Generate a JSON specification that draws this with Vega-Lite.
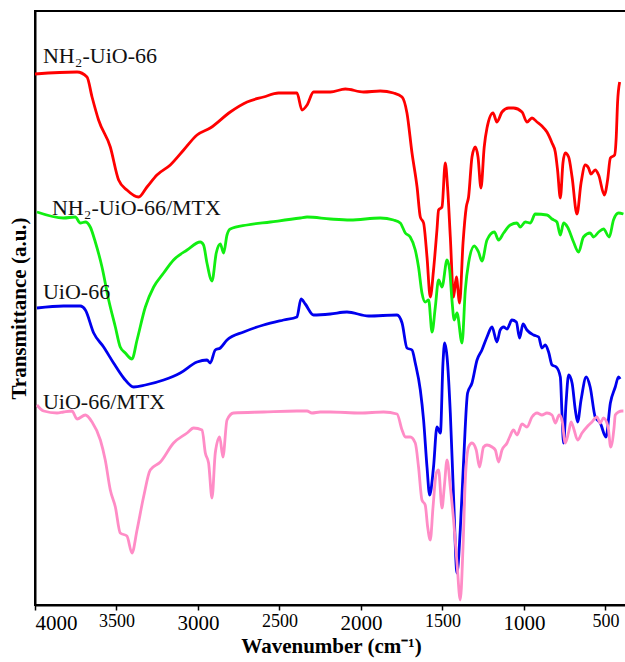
{
  "$schema": "https://vega.github.io/schema/vega-lite/v6.json",
  "width": 592,
  "height": 594,
  "autosize": {"type": "none"},
  "padding": {"left": 35, "top": 11, "right": 0, "bottom": 57},
  "background": "white",
  "config": {"view": {"stroke": "black", "strokeWidth": 2}},
  "datasets": {
    "labels": [
      {"label": "NH₂-UiO-66", "w": 3951, "t": 549},
      {"label": "NH₂-UiO-66/MTX", "w": 3896, "t": 397},
      {"label": "UiO-66", "w": 3951, "t": 313},
      {"label": "UiO-66/MTX", "w": 3951, "t": 203}
    ],
    "spectra": [
      {"s":"NH2-UiO-66","w":4000,"t":531},{"s":"NH2-UiO-66","w":3742,"t":533},{"s":"NH2-UiO-66","w":3681,"t":528},{"s":"NH2-UiO-66","w":3650,"t":508},{"s":"NH2-UiO-66","w":3610,"t":485},{"s":"NH2-UiO-66","w":3538,"t":458},{"s":"NH2-UiO-66","w":3487,"t":425},{"s":"NH2-UiO-66","w":3436,"t":415},{"s":"NH2-UiO-66","w":3364,"t":408},{"s":"NH2-UiO-66","w":3313,"t":418},{"s":"NH2-UiO-66","w":3252,"t":430},{"s":"NH2-UiO-66","w":3170,"t":440},{"s":"NH2-UiO-66","w":3088,"t":455},{"s":"NH2-UiO-66","w":3006,"t":470},{"s":"NH2-UiO-66","w":2925,"t":477},{"s":"NH2-UiO-66","w":2802,"t":493},{"s":"NH2-UiO-66","w":2699,"t":503},{"s":"NH2-UiO-66","w":2598,"t":508},{"s":"NH2-UiO-66","w":2506,"t":512},{"s":"NH2-UiO-66","w":2393,"t":512},{"s":"NH2-UiO-66","w":2362,"t":495},{"s":"NH2-UiO-66","w":2331,"t":500},{"s":"NH2-UiO-66","w":2291,"t":513},{"s":"NH2-UiO-66","w":2188,"t":513},{"s":"NH2-UiO-66","w":2096,"t":516},{"s":"NH2-UiO-66","w":1984,"t":513},{"s":"NH2-UiO-66","w":1882,"t":514},{"s":"NH2-UiO-66","w":1800,"t":512},{"s":"NH2-UiO-66","w":1748,"t":508},{"s":"NH2-UiO-66","w":1718,"t":492},{"s":"NH2-UiO-66","w":1687,"t":452},{"s":"NH2-UiO-66","w":1656,"t":418},{"s":"NH2-UiO-66","w":1636,"t":388},{"s":"NH2-UiO-66","w":1616,"t":382},{"s":"NH2-UiO-66","w":1595,"t":348},{"s":"NH2-UiO-66","w":1575,"t":308},{"s":"NH2-UiO-66","w":1555,"t":335},{"s":"NH2-UiO-66","w":1534,"t":375},{"s":"NH2-UiO-66","w":1524,"t":395},{"s":"NH2-UiO-66","w":1503,"t":398},{"s":"NH2-UiO-66","w":1483,"t":442},{"s":"NH2-UiO-66","w":1469,"t":418},{"s":"NH2-UiO-66","w":1452,"t":368},{"s":"NH2-UiO-66","w":1432,"t":308},{"s":"NH2-UiO-66","w":1415,"t":328},{"s":"NH2-UiO-66","w":1395,"t":302},{"s":"NH2-UiO-66","w":1374,"t":362},{"s":"NH2-UiO-66","w":1354,"t":398},{"s":"NH2-UiO-66","w":1340,"t":408},{"s":"NH2-UiO-66","w":1319,"t":448},{"s":"NH2-UiO-66","w":1299,"t":458},{"s":"NH2-UiO-66","w":1282,"t":448},{"s":"NH2-UiO-66","w":1264,"t":417},{"s":"NH2-UiO-66","w":1244,"t":458},{"s":"NH2-UiO-66","w":1227,"t":477},{"s":"NH2-UiO-66","w":1190,"t":492},{"s":"NH2-UiO-66","w":1166,"t":483},{"s":"NH2-UiO-66","w":1135,"t":493},{"s":"NH2-UiO-66","w":1094,"t":497},{"s":"NH2-UiO-66","w":1064,"t":497},{"s":"NH2-UiO-66","w":1012,"t":493},{"s":"NH2-UiO-66","w":982,"t":483},{"s":"NH2-UiO-66","w":951,"t":487},{"s":"NH2-UiO-66","w":920,"t":483},{"s":"NH2-UiO-66","w":890,"t":479},{"s":"NH2-UiO-66","w":859,"t":473},{"s":"NH2-UiO-66","w":828,"t":462},{"s":"NH2-UiO-66","w":808,"t":453},{"s":"NH2-UiO-66","w":794,"t":435},{"s":"NH2-UiO-66","w":777,"t":407},{"s":"NH2-UiO-66","w":761,"t":442},{"s":"NH2-UiO-66","w":747,"t":452},{"s":"NH2-UiO-66","w":726,"t":448},{"s":"NH2-UiO-66","w":705,"t":428},{"s":"NH2-UiO-66","w":675,"t":391},{"s":"NH2-UiO-66","w":650,"t":422},{"s":"NH2-UiO-66","w":624,"t":440},{"s":"NH2-UiO-66","w":604,"t":437},{"s":"NH2-UiO-66","w":589,"t":431},{"s":"NH2-UiO-66","w":563,"t":435},{"s":"NH2-UiO-66","w":542,"t":430},{"s":"NH2-UiO-66","w":507,"t":410},{"s":"NH2-UiO-66","w":487,"t":425},{"s":"NH2-UiO-66","w":470,"t":447},{"s":"NH2-UiO-66","w":444,"t":450},{"s":"NH2-UiO-66","w":434,"t":468},{"s":"NH2-UiO-66","w":426,"t":502},{"s":"NH2-UiO-66","w":413,"t":523},

      {"s":"NH2-UiO-66/MTX","w":3988,"t":393},{"s":"NH2-UiO-66/MTX","w":3825,"t":387},{"s":"NH2-UiO-66/MTX","w":3753,"t":388},{"s":"NH2-UiO-66/MTX","w":3722,"t":382},{"s":"NH2-UiO-66/MTX","w":3691,"t":383},{"s":"NH2-UiO-66/MTX","w":3661,"t":378},{"s":"NH2-UiO-66/MTX","w":3630,"t":363},{"s":"NH2-UiO-66/MTX","w":3589,"t":338},{"s":"NH2-UiO-66/MTX","w":3548,"t":305},{"s":"NH2-UiO-66/MTX","w":3507,"t":278},{"s":"NH2-UiO-66/MTX","w":3477,"t":258},{"s":"NH2-UiO-66/MTX","w":3446,"t":252},{"s":"NH2-UiO-66/MTX","w":3405,"t":246},{"s":"NH2-UiO-66/MTX","w":3374,"t":265},{"s":"NH2-UiO-66/MTX","w":3323,"t":298},{"s":"NH2-UiO-66/MTX","w":3272,"t":318},{"s":"NH2-UiO-66/MTX","w":3211,"t":332},{"s":"NH2-UiO-66/MTX","w":3150,"t":345},{"s":"NH2-UiO-66/MTX","w":3067,"t":355},{"s":"NH2-UiO-66/MTX","w":2986,"t":363},{"s":"NH2-UiO-66/MTX","w":2966,"t":360},{"s":"NH2-UiO-66/MTX","w":2945,"t":342},{"s":"NH2-UiO-66/MTX","w":2914,"t":324},{"s":"NH2-UiO-66/MTX","w":2888,"t":352},{"s":"NH2-UiO-66/MTX","w":2863,"t":361},{"s":"NH2-UiO-66/MTX","w":2843,"t":352},{"s":"NH2-UiO-66/MTX","w":2822,"t":370},{"s":"NH2-UiO-66/MTX","w":2802,"t":376},{"s":"NH2-UiO-66/MTX","w":2699,"t":380},{"s":"NH2-UiO-66/MTX","w":2556,"t":383},{"s":"NH2-UiO-66/MTX","w":2372,"t":387},{"s":"NH2-UiO-66/MTX","w":2331,"t":388},{"s":"NH2-UiO-66/MTX","w":2188,"t":386},{"s":"NH2-UiO-66/MTX","w":2066,"t":385},{"s":"NH2-UiO-66/MTX","w":1882,"t":387},{"s":"NH2-UiO-66/MTX","w":1800,"t":385},{"s":"NH2-UiO-66/MTX","w":1759,"t":382},{"s":"NH2-UiO-66/MTX","w":1728,"t":372},{"s":"NH2-UiO-66/MTX","w":1698,"t":368},{"s":"NH2-UiO-66/MTX","w":1667,"t":355},{"s":"NH2-UiO-66/MTX","w":1647,"t":338},{"s":"NH2-UiO-66/MTX","w":1626,"t":312},{"s":"NH2-UiO-66/MTX","w":1606,"t":303},{"s":"NH2-UiO-66/MTX","w":1585,"t":305},{"s":"NH2-UiO-66/MTX","w":1564,"t":273},{"s":"NH2-UiO-66/MTX","w":1544,"t":298},{"s":"NH2-UiO-66/MTX","w":1524,"t":325},{"s":"NH2-UiO-66/MTX","w":1503,"t":318},{"s":"NH2-UiO-66/MTX","w":1472,"t":345},{"s":"NH2-UiO-66/MTX","w":1456,"t":335},{"s":"NH2-UiO-66/MTX","w":1442,"t":305},{"s":"NH2-UiO-66/MTX","w":1428,"t":285},{"s":"NH2-UiO-66/MTX","w":1411,"t":292},{"s":"NH2-UiO-66/MTX","w":1380,"t":262},{"s":"NH2-UiO-66/MTX","w":1360,"t":315},{"s":"NH2-UiO-66/MTX","w":1340,"t":342},{"s":"NH2-UiO-66/MTX","w":1305,"t":359},{"s":"NH2-UiO-66/MTX","w":1279,"t":353},{"s":"NH2-UiO-66/MTX","w":1258,"t":344},{"s":"NH2-UiO-66/MTX","w":1227,"t":365},{"s":"NH2-UiO-66/MTX","w":1182,"t":373},{"s":"NH2-UiO-66/MTX","w":1156,"t":365},{"s":"NH2-UiO-66/MTX","w":1125,"t":372},{"s":"NH2-UiO-66/MTX","w":1084,"t":380},{"s":"NH2-UiO-66/MTX","w":1043,"t":382},{"s":"NH2-UiO-66/MTX","w":1023,"t":378},{"s":"NH2-UiO-66/MTX","w":992,"t":383},{"s":"NH2-UiO-66/MTX","w":961,"t":382},{"s":"NH2-UiO-66/MTX","w":931,"t":391},{"s":"NH2-UiO-66/MTX","w":859,"t":390},{"s":"NH2-UiO-66/MTX","w":828,"t":386},{"s":"NH2-UiO-66/MTX","w":798,"t":383},{"s":"NH2-UiO-66/MTX","w":777,"t":370},{"s":"NH2-UiO-66/MTX","w":757,"t":382},{"s":"NH2-UiO-66/MTX","w":733,"t":378},{"s":"NH2-UiO-66/MTX","w":696,"t":363},{"s":"NH2-UiO-66/MTX","w":665,"t":353},{"s":"NH2-UiO-66/MTX","w":635,"t":368},{"s":"NH2-UiO-66/MTX","w":594,"t":372},{"s":"NH2-UiO-66/MTX","w":573,"t":368},{"s":"NH2-UiO-66/MTX","w":542,"t":373},{"s":"NH2-UiO-66/MTX","w":512,"t":376},{"s":"NH2-UiO-66/MTX","w":477,"t":368},{"s":"NH2-UiO-66/MTX","w":451,"t":385},{"s":"NH2-UiO-66/MTX","w":420,"t":392},{"s":"NH2-UiO-66/MTX","w":390,"t":391},

      {"s":"UiO-66","w":3988,"t":297},{"s":"UiO-66","w":3825,"t":299},{"s":"UiO-66","w":3722,"t":299},{"s":"UiO-66","w":3691,"t":295},{"s":"UiO-66","w":3640,"t":272},{"s":"UiO-66","w":3579,"t":258},{"s":"UiO-66","w":3518,"t":242},{"s":"UiO-66","w":3456,"t":227},{"s":"UiO-66","w":3395,"t":218},{"s":"UiO-66","w":3323,"t":220},{"s":"UiO-66","w":3211,"t":225},{"s":"UiO-66","w":3109,"t":232},{"s":"UiO-66","w":3006,"t":243},{"s":"UiO-66","w":2945,"t":245},{"s":"UiO-66","w":2925,"t":242},{"s":"UiO-66","w":2894,"t":255},{"s":"UiO-66","w":2863,"t":257},{"s":"UiO-66","w":2822,"t":265},{"s":"UiO-66","w":2720,"t":273},{"s":"UiO-66","w":2598,"t":280},{"s":"UiO-66","w":2475,"t":285},{"s":"UiO-66","w":2393,"t":288},{"s":"UiO-66","w":2368,"t":306},{"s":"UiO-66","w":2342,"t":301},{"s":"UiO-66","w":2291,"t":290},{"s":"UiO-66","w":2188,"t":291},{"s":"UiO-66","w":2086,"t":293},{"s":"UiO-66","w":1953,"t":289},{"s":"UiO-66","w":1779,"t":290},{"s":"UiO-66","w":1748,"t":282},{"s":"UiO-66","w":1718,"t":257},{"s":"UiO-66","w":1687,"t":255},{"s":"UiO-66","w":1667,"t":242},{"s":"UiO-66","w":1636,"t":215},{"s":"UiO-66","w":1616,"t":185},{"s":"UiO-66","w":1595,"t":138},{"s":"UiO-66","w":1579,"t":110},{"s":"UiO-66","w":1555,"t":138},{"s":"UiO-66","w":1534,"t":178},{"s":"UiO-66","w":1513,"t":172},{"s":"UiO-66","w":1497,"t":242},{"s":"UiO-66","w":1487,"t":262},{"s":"UiO-66","w":1472,"t":248},{"s":"UiO-66","w":1452,"t":192},{"s":"UiO-66","w":1432,"t":108},{"s":"UiO-66","w":1411,"t":32},{"s":"UiO-66","w":1391,"t":75},{"s":"UiO-66","w":1371,"t":142},{"s":"UiO-66","w":1346,"t":212},{"s":"UiO-66","w":1319,"t":222},{"s":"UiO-66","w":1288,"t":245},{"s":"UiO-66","w":1258,"t":255},{"s":"UiO-66","w":1227,"t":268},{"s":"UiO-66","w":1196,"t":278},{"s":"UiO-66","w":1166,"t":263},{"s":"UiO-66","w":1146,"t":275},{"s":"UiO-66","w":1125,"t":278},{"s":"UiO-66","w":1104,"t":276},{"s":"UiO-66","w":1074,"t":285},{"s":"UiO-66","w":1047,"t":283},{"s":"UiO-66","w":1027,"t":267},{"s":"UiO-66","w":1006,"t":281},{"s":"UiO-66","w":982,"t":275},{"s":"UiO-66","w":941,"t":270},{"s":"UiO-66","w":910,"t":268},{"s":"UiO-66","w":890,"t":257},{"s":"UiO-66","w":869,"t":260},{"s":"UiO-66","w":849,"t":253},{"s":"UiO-66","w":828,"t":240},{"s":"UiO-66","w":802,"t":238},{"s":"UiO-66","w":777,"t":228},{"s":"UiO-66","w":767,"t":192},{"s":"UiO-66","w":757,"t":162},{"s":"UiO-66","w":742,"t":202},{"s":"UiO-66","w":726,"t":230},{"s":"UiO-66","w":705,"t":222},{"s":"UiO-66","w":685,"t":195},{"s":"UiO-66","w":671,"t":183},{"s":"UiO-66","w":650,"t":205},{"s":"UiO-66","w":618,"t":228},{"s":"UiO-66","w":594,"t":218},{"s":"UiO-66","w":563,"t":188},{"s":"UiO-66","w":532,"t":182},{"s":"UiO-66","w":497,"t":168},{"s":"UiO-66","w":470,"t":202},{"s":"UiO-66","w":440,"t":218},{"s":"UiO-66","w":420,"t":228},{"s":"UiO-66","w":410,"t":226},

      {"s":"UiO-66/MTX","w":3988,"t":200},{"s":"UiO-66/MTX","w":3947,"t":194},{"s":"UiO-66/MTX","w":3865,"t":192},{"s":"UiO-66/MTX","w":3825,"t":193},{"s":"UiO-66/MTX","w":3773,"t":194},{"s":"UiO-66/MTX","w":3742,"t":186},{"s":"UiO-66/MTX","w":3691,"t":190},{"s":"UiO-66/MTX","w":3650,"t":183},{"s":"UiO-66/MTX","w":3599,"t":165},{"s":"UiO-66/MTX","w":3569,"t":145},{"s":"UiO-66/MTX","w":3538,"t":115},{"s":"UiO-66/MTX","w":3507,"t":98},{"s":"UiO-66/MTX","w":3477,"t":72},{"s":"UiO-66/MTX","w":3436,"t":69},{"s":"UiO-66/MTX","w":3405,"t":52},{"s":"UiO-66/MTX","w":3374,"t":75},{"s":"UiO-66/MTX","w":3334,"t":108},{"s":"UiO-66/MTX","w":3293,"t":135},{"s":"UiO-66/MTX","w":3231,"t":143},{"s":"UiO-66/MTX","w":3150,"t":162},{"s":"UiO-66/MTX","w":3067,"t":172},{"s":"UiO-66/MTX","w":3027,"t":177},{"s":"UiO-66/MTX","w":2975,"t":175},{"s":"UiO-66/MTX","w":2955,"t":152},{"s":"UiO-66/MTX","w":2935,"t":142},{"s":"UiO-66/MTX","w":2914,"t":107},{"s":"UiO-66/MTX","w":2894,"t":152},{"s":"UiO-66/MTX","w":2867,"t":168},{"s":"UiO-66/MTX","w":2847,"t":148},{"s":"UiO-66/MTX","w":2822,"t":185},{"s":"UiO-66/MTX","w":2782,"t":192},{"s":"UiO-66/MTX","w":2598,"t":193},{"s":"UiO-66/MTX","w":2393,"t":194},{"s":"UiO-66/MTX","w":2331,"t":194},{"s":"UiO-66/MTX","w":2301,"t":192},{"s":"UiO-66/MTX","w":2250,"t":193},{"s":"UiO-66/MTX","w":2188,"t":193},{"s":"UiO-66/MTX","w":2004,"t":192},{"s":"UiO-66/MTX","w":1861,"t":193},{"s":"UiO-66/MTX","w":1779,"t":191},{"s":"UiO-66/MTX","w":1748,"t":175},{"s":"UiO-66/MTX","w":1728,"t":168},{"s":"UiO-66/MTX","w":1698,"t":168},{"s":"UiO-66/MTX","w":1667,"t":162},{"s":"UiO-66/MTX","w":1647,"t":138},{"s":"UiO-66/MTX","w":1626,"t":105},{"s":"UiO-66/MTX","w":1606,"t":100},{"s":"UiO-66/MTX","w":1591,"t":78},{"s":"UiO-66/MTX","w":1575,"t":65},{"s":"UiO-66/MTX","w":1558,"t":98},{"s":"UiO-66/MTX","w":1538,"t":132},{"s":"UiO-66/MTX","w":1524,"t":135},{"s":"UiO-66/MTX","w":1503,"t":97},{"s":"UiO-66/MTX","w":1489,"t":118},{"s":"UiO-66/MTX","w":1472,"t":145},{"s":"UiO-66/MTX","w":1452,"t":118},{"s":"UiO-66/MTX","w":1432,"t":85},{"s":"UiO-66/MTX","w":1411,"t":42},{"s":"UiO-66/MTX","w":1391,"t":5},{"s":"UiO-66/MTX","w":1374,"t":58},{"s":"UiO-66/MTX","w":1360,"t":125},{"s":"UiO-66/MTX","w":1340,"t":158},{"s":"UiO-66/MTX","w":1319,"t":162},{"s":"UiO-66/MTX","w":1293,"t":155},{"s":"UiO-66/MTX","w":1273,"t":138},{"s":"UiO-66/MTX","w":1248,"t":158},{"s":"UiO-66/MTX","w":1227,"t":160},{"s":"UiO-66/MTX","w":1196,"t":158},{"s":"UiO-66/MTX","w":1176,"t":155},{"s":"UiO-66/MTX","w":1156,"t":143},{"s":"UiO-66/MTX","w":1135,"t":155},{"s":"UiO-66/MTX","w":1104,"t":162},{"s":"UiO-66/MTX","w":1088,"t":168},{"s":"UiO-66/MTX","w":1064,"t":175},{"s":"UiO-66/MTX","w":1043,"t":170},{"s":"UiO-66/MTX","w":1012,"t":181},{"s":"UiO-66/MTX","w":982,"t":178},{"s":"UiO-66/MTX","w":951,"t":188},{"s":"UiO-66/MTX","w":920,"t":192},{"s":"UiO-66/MTX","w":890,"t":190},{"s":"UiO-66/MTX","w":859,"t":192},{"s":"UiO-66/MTX","w":828,"t":190},{"s":"UiO-66/MTX","w":808,"t":182},{"s":"UiO-66/MTX","w":784,"t":190},{"s":"UiO-66/MTX","w":767,"t":185},{"s":"UiO-66/MTX","w":747,"t":162},{"s":"UiO-66/MTX","w":726,"t":173},{"s":"UiO-66/MTX","w":711,"t":183},{"s":"UiO-66/MTX","w":696,"t":177},{"s":"UiO-66/MTX","w":671,"t":165},{"s":"UiO-66/MTX","w":644,"t":172},{"s":"UiO-66/MTX","w":614,"t":178},{"s":"UiO-66/MTX","w":583,"t":183},{"s":"UiO-66/MTX","w":553,"t":188},{"s":"UiO-66/MTX","w":532,"t":182},{"s":"UiO-66/MTX","w":512,"t":187},{"s":"UiO-66/MTX","w":484,"t":178},{"s":"UiO-66/MTX","w":468,"t":158},{"s":"UiO-66/MTX","w":447,"t":178},{"s":"UiO-66/MTX","w":440,"t":190},{"s":"UiO-66/MTX","w":420,"t":193},{"s":"UiO-66/MTX","w":399,"t":194},{"s":"UiO-66/MTX","w":390,"t":194}
    ]
  },
  "layer": [
    {
      "data": {"name": "spectra"},
      "mark": {"type": "line", "strokeWidth": 2.8, "interpolate": "monotone", "clip": true},
      "encoding": {
        "x": {
          "field": "w", "type": "quantitative",
          "scale": {"domain": [368, 4000], "reverse": true, "nice": false, "zero": false},
          "axis": {
            "values": [4000, 3500, 3000, 2500, 2000, 1500, 1000, 500],
            "grid": false,
            "format": "d",
            "domainColor": "black", "domainWidth": 2,
            "tickColor": "black", "tickWidth": 1.5, "tickSize": 5,
            "labelFont": "Liberation Serif",
            "labelFontSize": {"condition": {"test": "datum.value % 1000 === 0", "value": 21}, "value": 18},
            "labelColor": "black", "labelPadding": 2,
            "title": "Wavenumber (cm⁻¹)",
            "titleFont": "Liberation Serif", "titleFontSize": 21, "titleFontWeight": "bold",
            "titleColor": "black", "titlePadding": 2
          }
        },
        "y": {
          "field": "t", "type": "quantitative",
          "scale": {"domain": [0, 594], "nice": false, "zero": false},
          "axis": {
            "labels": false, "ticks": false, "grid": false,
            "domainColor": "black", "domainWidth": 2,
            "title": "Transmittance (a.u.)",
            "titleFont": "Liberation Serif", "titleFontSize": 21, "titleFontWeight": "bold",
            "titleColor": "black", "titlePadding": 6
          }
        },
        "color": {
          "field": "s", "type": "nominal",
          "scale": {
            "domain": ["NH2-UiO-66", "NH2-UiO-66/MTX", "UiO-66", "UiO-66/MTX"],
            "range": ["#ff0000", "#11ee11", "#0000ee", "#ff8cc6"]
          },
          "legend": null
        },
        "order": {"field": "w", "type": "quantitative"}
      }
    },
    {
      "data": {"name": "labels"},
      "mark": {"type": "text", "align": "left", "baseline": "middle", "font": "Liberation Serif", "fontSize": 22, "color": "#111111"},
      "encoding": {
        "x": {"field": "w", "type": "quantitative"},
        "y": {"field": "t", "type": "quantitative"},
        "text": {"field": "label"}
      }
    }
  ]
}
